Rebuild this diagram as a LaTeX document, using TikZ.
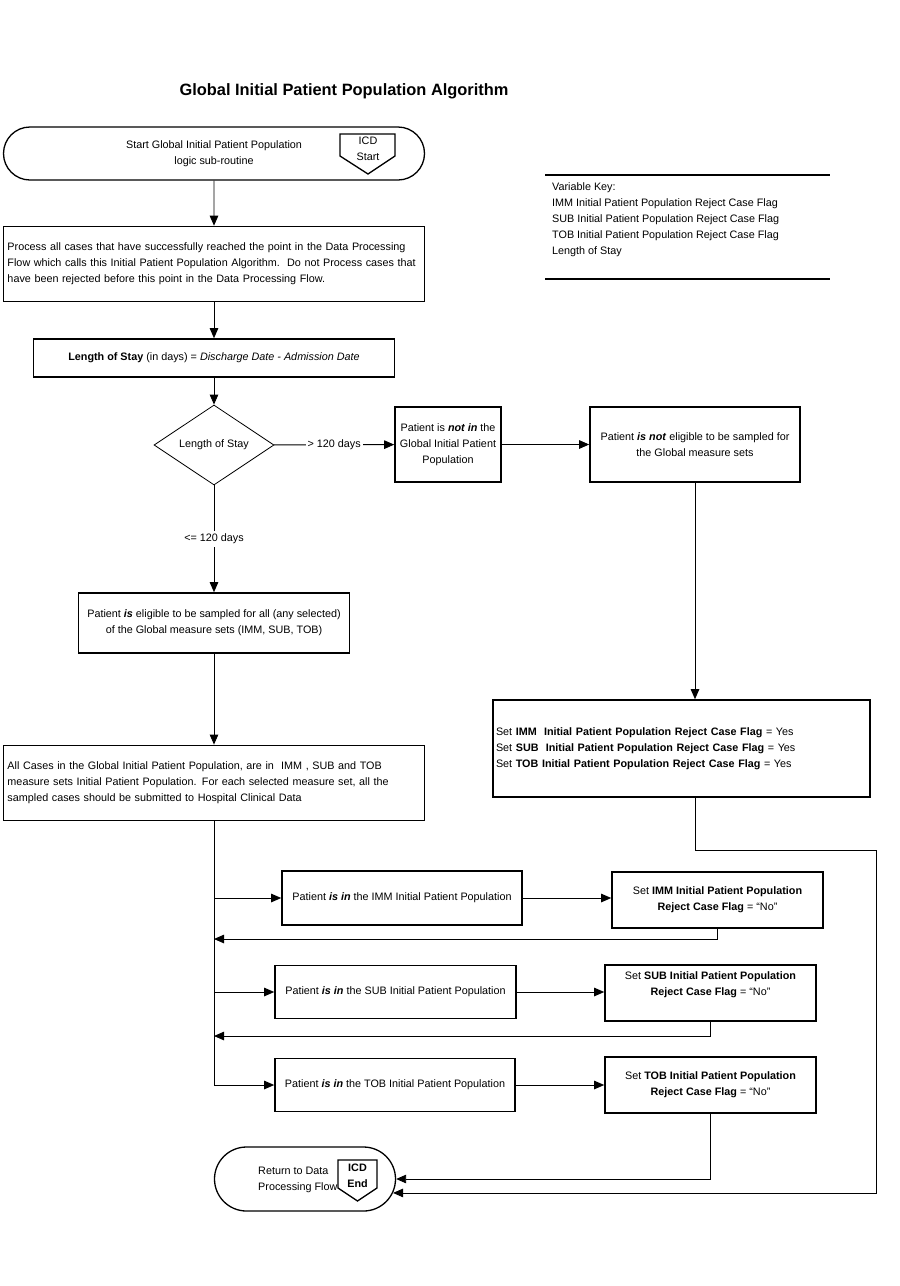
\documentclass[tikz,border=0pt]{standalone}
\usepackage{fontspec}
\setmainfont{Liberation Sans}
\usetikzlibrary{arrows.meta,shapes.geometric,shapes.misc}

\begin{document}
\begin{tikzpicture}[x=1pt, y=-1pt,
    every node/.style={font=\fontsize{10.8pt}{16pt}\selectfont, inner sep=0pt},
    box_style/.style={draw, line width=1.6pt, rectangle, align=center},
    thin_box/.style={draw, line width=0.8pt, rectangle, align=left},
    term_style/.style={draw, line width=1.3pt, rounded rectangle, align=center},
    arrow_style/.style={draw=black, line width=0.9pt, -{Triangle[length=10pt,width=8.5pt]}},
    line_style/.style={draw=black, line width=0.9pt}]
  \tikzset{icd_style/.style={draw, line width=1.3pt, line join=miter}}
  \useasboundingbox (0,0) rectangle (900,1286);

  \node[font=\fontsize{16.4pt}{20pt}\selectfont\bfseries] (title) at (344,91) {Global Initial Patient Population Algorithm};

  % terminals
  \node[term_style, minimum width=421pt, minimum height=53pt] (start) at (214,153.5) {Start Global Initial Patient Population\\logic sub-routine};
  \draw[icd_style] (340,134) -- (395,134) -- (395,156) -- (368,174) -- (340,156) -- cycle;
  \node[align=center] (icd_start) at (368,149) {ICD\\Start};

  \node[term_style, minimum width=181pt, minimum height=64pt] (end) at (305,1179) {};
  \node[align=left, anchor=west] (end_txt) at (258,1179.5) {Return to Data\\Processing Flow};
  \draw[icd_style] (338,1160) -- (377,1160) -- (377,1188) -- (357.5,1201) -- (338,1188) -- cycle;
  \node[align=center, font=\fontsize{10.8pt}{16pt}\selectfont\bfseries] (icd_end) at (357.5,1175.5) {ICD\\End};

  % variable key
  \draw[line width=1.2pt] (545,175) -- (830,175);
  \draw[line width=1.2pt] (545,279) -- (830,279);
  \node[align=left, anchor=west] (key) at (552,220) {Variable Key:\\IMM Initial Patient Population Reject Case Flag\\SUB Initial Patient Population Reject Case Flag\\TOB Initial Patient Population Reject Case Flag\\Length of Stay};

  % main column
  \node[box_style, align=left, minimum width=421pt, minimum height=75pt, text width=413pt] (proc) at (214,264) {Process all cases that have successfully reached the point in the Data Processing\\Flow which calls this Initial Patient Population Algorithm.\ \ Do not Process cases that\\have been rejected before this point in the Data Processing Flow.};
  \node[box_style, minimum width=361pt, minimum height=38pt] (los) at (214,358) {\textbf{Length of Stay} (in days) = \textit{Discharge Date - Admission Date}};
  \node[diamond, draw, line width=0.8pt, aspect=1.5, minimum width=120pt, minimum height=80pt] (dec) at (214,445) {Length of Stay};
  \node[box_style, minimum width=271pt, minimum height=60pt] (elig) at (214,623) {Patient \textbf{\textit{is}} eligible to be sampled for all (any selected)\\of the Global measure sets (IMM, SUB,\ TOB)};
  \node[thin_box, minimum width=421pt, minimum height=75pt, text width=413pt] (allcases) at (214,782.5) {All Cases in the Global Initial Patient Population, are in\ \ IMM , SUB and TOB\\measure sets Initial Patient Population. For each selected measure set, all the\\sampled cases should be submitted to Hospital Clinical Data};

  % right column
  \node[box_style, minimum width=106pt, minimum height=75pt] (notin) at (448,444.5) {Patient is \textbf{\textit{not in}} the\\Global Initial Patient\\Population};
  \node[box_style, minimum width=210pt, minimum height=75pt] (noteli) at (695,444.5) {Patient \textbf{\textit{is not}} eligible to be sampled for\\the Global measure sets};
  \node[box_style, align=left, minimum width=377pt, minimum height=97pt, text width=371pt] (setyes) at (681.5,748.5) {Set \textbf{IMM\ \ Initial Patient Population Reject Case Flag} = Yes\\Set \textbf{SUB\ \ Initial Patient Population Reject Case Flag} = Yes\\Set \textbf{TOB Initial Patient Population Reject Case Flag} = Yes};

  % measure set branches
  \node[box_style, minimum width=240pt, minimum height=54pt] (imm) at (402,898) {Patient \textbf{\textit{is in}} the IMM Initial Patient Population};
  \node[box_style, minimum width=211pt, minimum height=56pt] (setimm) at (717.5,900) {Set \textbf{IMM Initial Patient Population}\\\textbf{Reject Case Flag} = “No”};
  \node[box_style, minimum width=241pt, minimum height=53pt] (sub) at (395.5,992) {Patient \textbf{\textit{is in}} the SUB Initial Patient Population};
  \node[box_style, minimum width=211pt, minimum height=56pt] (setsub) at (710.5,993) {};
  \node[align=center] (setsub_txt) at (710.5,985) {Set \textbf{SUB Initial Patient Population}\\\textbf{Reject Case Flag} = “No”};
  \node[box_style, minimum width=240pt, minimum height=53pt] (tob) at (395,1085) {Patient \textbf{\textit{is in}} the TOB Initial Patient Population};
  \node[box_style, minimum width=211pt, minimum height=56pt] (settob) at (710.5,1085) {Set \textbf{TOB Initial Patient Population}\\\textbf{Reject Case Flag} = “No”};

  \coordinate (t_imm) at (214,898);
  \coordinate (r_imm) at (214,939);
  \coordinate (t_sub) at (214,992);
  \coordinate (r_sub) at (214,1036);
  \coordinate (t_tob) at (214,1085);
  \coordinate (r_right) at (876,850);

  % connectors
  \draw[arrow_style] (start) -- (proc);
  \draw[arrow_style] (proc) -- (los);
  \draw[arrow_style] (los) -- (dec);
  \draw[arrow_style] (dec) -- node[fill=white, inner xsep=2pt] (lbl_gt) {> 120 days} (notin);
  \draw[arrow_style] (dec) -- node[fill=white, inner ysep=3pt] (lbl_le) {<= 120 days} (elig);
  \draw[arrow_style] (notin) -- (noteli);
  \draw[arrow_style] (noteli.south) -- (noteli.south |- setyes.north);
  \draw[arrow_style] (elig) -- (allcases);
  \draw[line_style] (allcases.south) -- (t_tob);
  \draw[arrow_style] (t_imm) -- (imm.west);
  \draw[arrow_style] (t_sub) -- (sub.west);
  \draw[arrow_style] (t_tob) -- (tob.west);
  \draw[arrow_style] (imm.east) -- (imm.east -| setimm.west);
  \draw[arrow_style] (sub.east) -- (sub.east -| setsub.west);
  \draw[arrow_style] (tob.east) -- (settob.west);
  \draw[arrow_style] (setimm.south) |- (r_imm);
  \draw[arrow_style] (setsub.south) |- (r_sub);
  \draw[arrow_style] (settob.south) |- (end.east);
  \draw[arrow_style] (noteli.south |- setyes.south) |- (r_right) |- (end.-9);
\end{tikzpicture}
\end{document}
